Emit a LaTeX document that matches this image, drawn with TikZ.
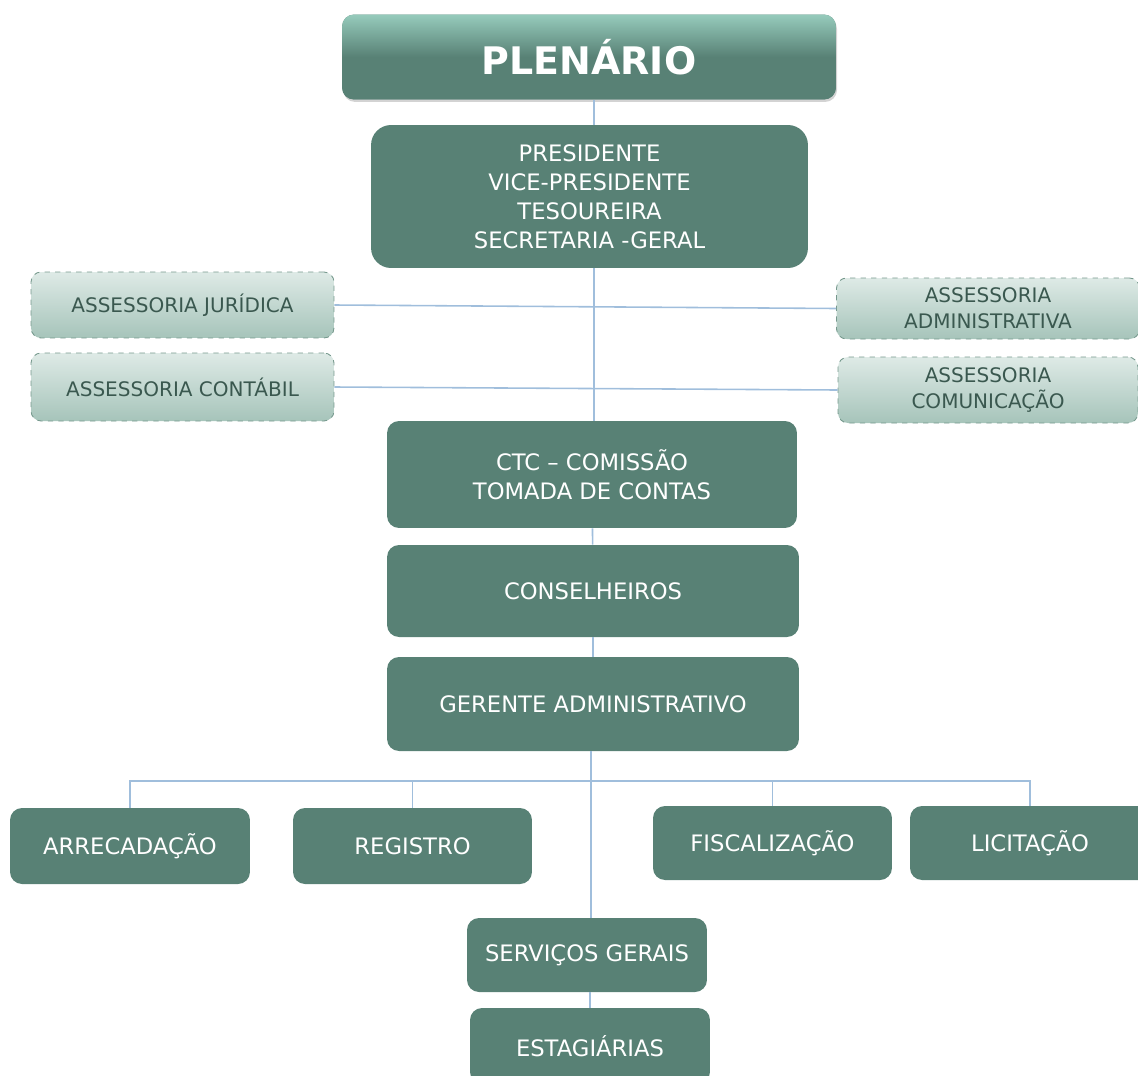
\documentclass[tikz,border=0pt]{standalone}
\usepackage{fontspec}
\setmainfont{DejaVu Sans}
\usepackage{xcolor}
\usepackage{tikz}
\usetikzlibrary{positioning, shadows, calc}

\definecolor{boxgreen}{RGB}{88,129,117}
\definecolor{plentop}{RGB}{150,203,188}
\definecolor{asstop}{RGB}{222,234,230}
\definecolor{assbot}{RGB}{166,196,186}
\definecolor{assline}{RGB}{118,153,141}
\definecolor{asstext}{RGB}{58,88,79}
\definecolor{linkblue}{RGB}{160,190,220}

\begin{document}
\begin{tikzpicture}[
    x=0.02cm, y=-0.02cm, % pixel-like grid
    box/.style={
        fill=boxgreen,
        rounded corners=0.24cm,
        text=white,
        align=center,
        inner sep=0pt,
        font=\fontsize{12.9}{16.6}\selectfont
    },
    plen/.style={box, top color=plentop, bottom color=boxgreen, middle color=boxgreen,
        drop shadow={opacity=0.35, shadow xshift=0.6pt, shadow yshift=-1.4pt},
        font=\fontsize{21.6}{25}\selectfont\bfseries},
    unit/.style={box, minimum width=4.8cm, minimum height=1.5cm},
    assess/.style={
        draw=assline, dashed, line width=0.5pt,
        rounded corners=0.2cm,
        top color=asstop, bottom color=assbot,
        text=asstext, align=center, inner sep=0pt,
        font=\fontsize{11.4}{14.8}\selectfont
    },
    link/.style={draw=linkblue, line width=0.9pt}
]
\useasboundingbox (0,0) rectangle (1138,1075);

% Top levels
\node[plen, minimum width=9.88cm, minimum height=1.7cm] (plenario) at (589,57) {PLENÁRIO};
\node[box, rounded corners=0.4cm, minimum width=8.74cm, minimum height=2.86cm] (diretoria) at (589.5,196.5)
    {PRESIDENTE\\VICE-PRESIDENTE\\TESOUREIRA\\SECRETARIA -GERAL};

% Assessorias
\node[assess, minimum width=6.06cm, minimum height=1.32cm] (juridica) at (182.5,305) {ASSESSORIA JURÍDICA};
\node[assess, minimum width=6.06cm, minimum height=1.36cm] (contabil) at (182.5,387) {ASSESSORIA CONTÁBIL};
\node[assess, minimum width=6.06cm, minimum height=1.22cm] (administrativa) at (988,308.5) {ASSESSORIA\\ADMINISTRATIVA};
\node[assess, minimum width=6.0cm, minimum height=1.32cm] (comunicacao) at (988,390) {ASSESSORIA\\COMUNICAÇÃO};

% Middle column
\node[box, minimum width=8.2cm, minimum height=2.14cm] (ctc) at (592,474.5) {CTC – COMISSÃO\\TOMADA DE CONTAS};
\node[box, minimum width=8.24cm, minimum height=1.84cm] (conselheiros) at (593,591) {CONSELHEIROS};
\node[box, minimum width=8.24cm, minimum height=1.88cm] (gerente) at (593,704) {GERENTE ADMINISTRATIVO};

% Setores
\node[unit, minimum height=1.52cm] (arrecadacao) at (130,846) {ARRECADAÇÃO};
\node[unit, minimum width=4.78cm, minimum height=1.52cm] (registro) at (412.5,846) {REGISTRO};
\node[unit, minimum width=4.78cm, minimum height=1.48cm] (fiscalizacao) at (772.5,843) {FISCALIZAÇÃO};
\node[unit, minimum height=1.48cm] (licitacao) at (1030,843) {LICITAÇÃO};
\node[unit, minimum height=1.48cm] (servicos) at (587,955) {SERVIÇOS GERAIS};
\node[unit, minimum height=1.52cm] (estagiarias) at (590,1046) {ESTAGIÁRIAS};

% Connectors
\coordinate (trunk) at (594,0);
\coordinate (stem) at (591,0);
\coordinate (bus) at (0,781);
\draw[link] (plenario.south -| trunk) -- (diretoria.north -| trunk);
\draw[link] (diretoria.south -| trunk) -- (ctc.north -| trunk);
\draw[link] (juridica.east) -- (administrativa.west);
\draw[link] (contabil.east) -- (comunicacao.west);
\draw[link] (ctc) -- (conselheiros);
\draw[link] (conselheiros) -- (gerente);
\draw[link] (gerente.south -| stem) -- (servicos.north -| stem);
\draw[link] (arrecadacao.north) |- (licitacao.north |- bus) -- (licitacao.north);
\draw[link] (registro.north) -- (registro.north |- bus);
\draw[link] (fiscalizacao.north) -- (fiscalizacao.north |- bus);
\draw[link] (servicos.south -| estagiarias) -- (estagiarias.north);

\end{tikzpicture}
\end{document}
